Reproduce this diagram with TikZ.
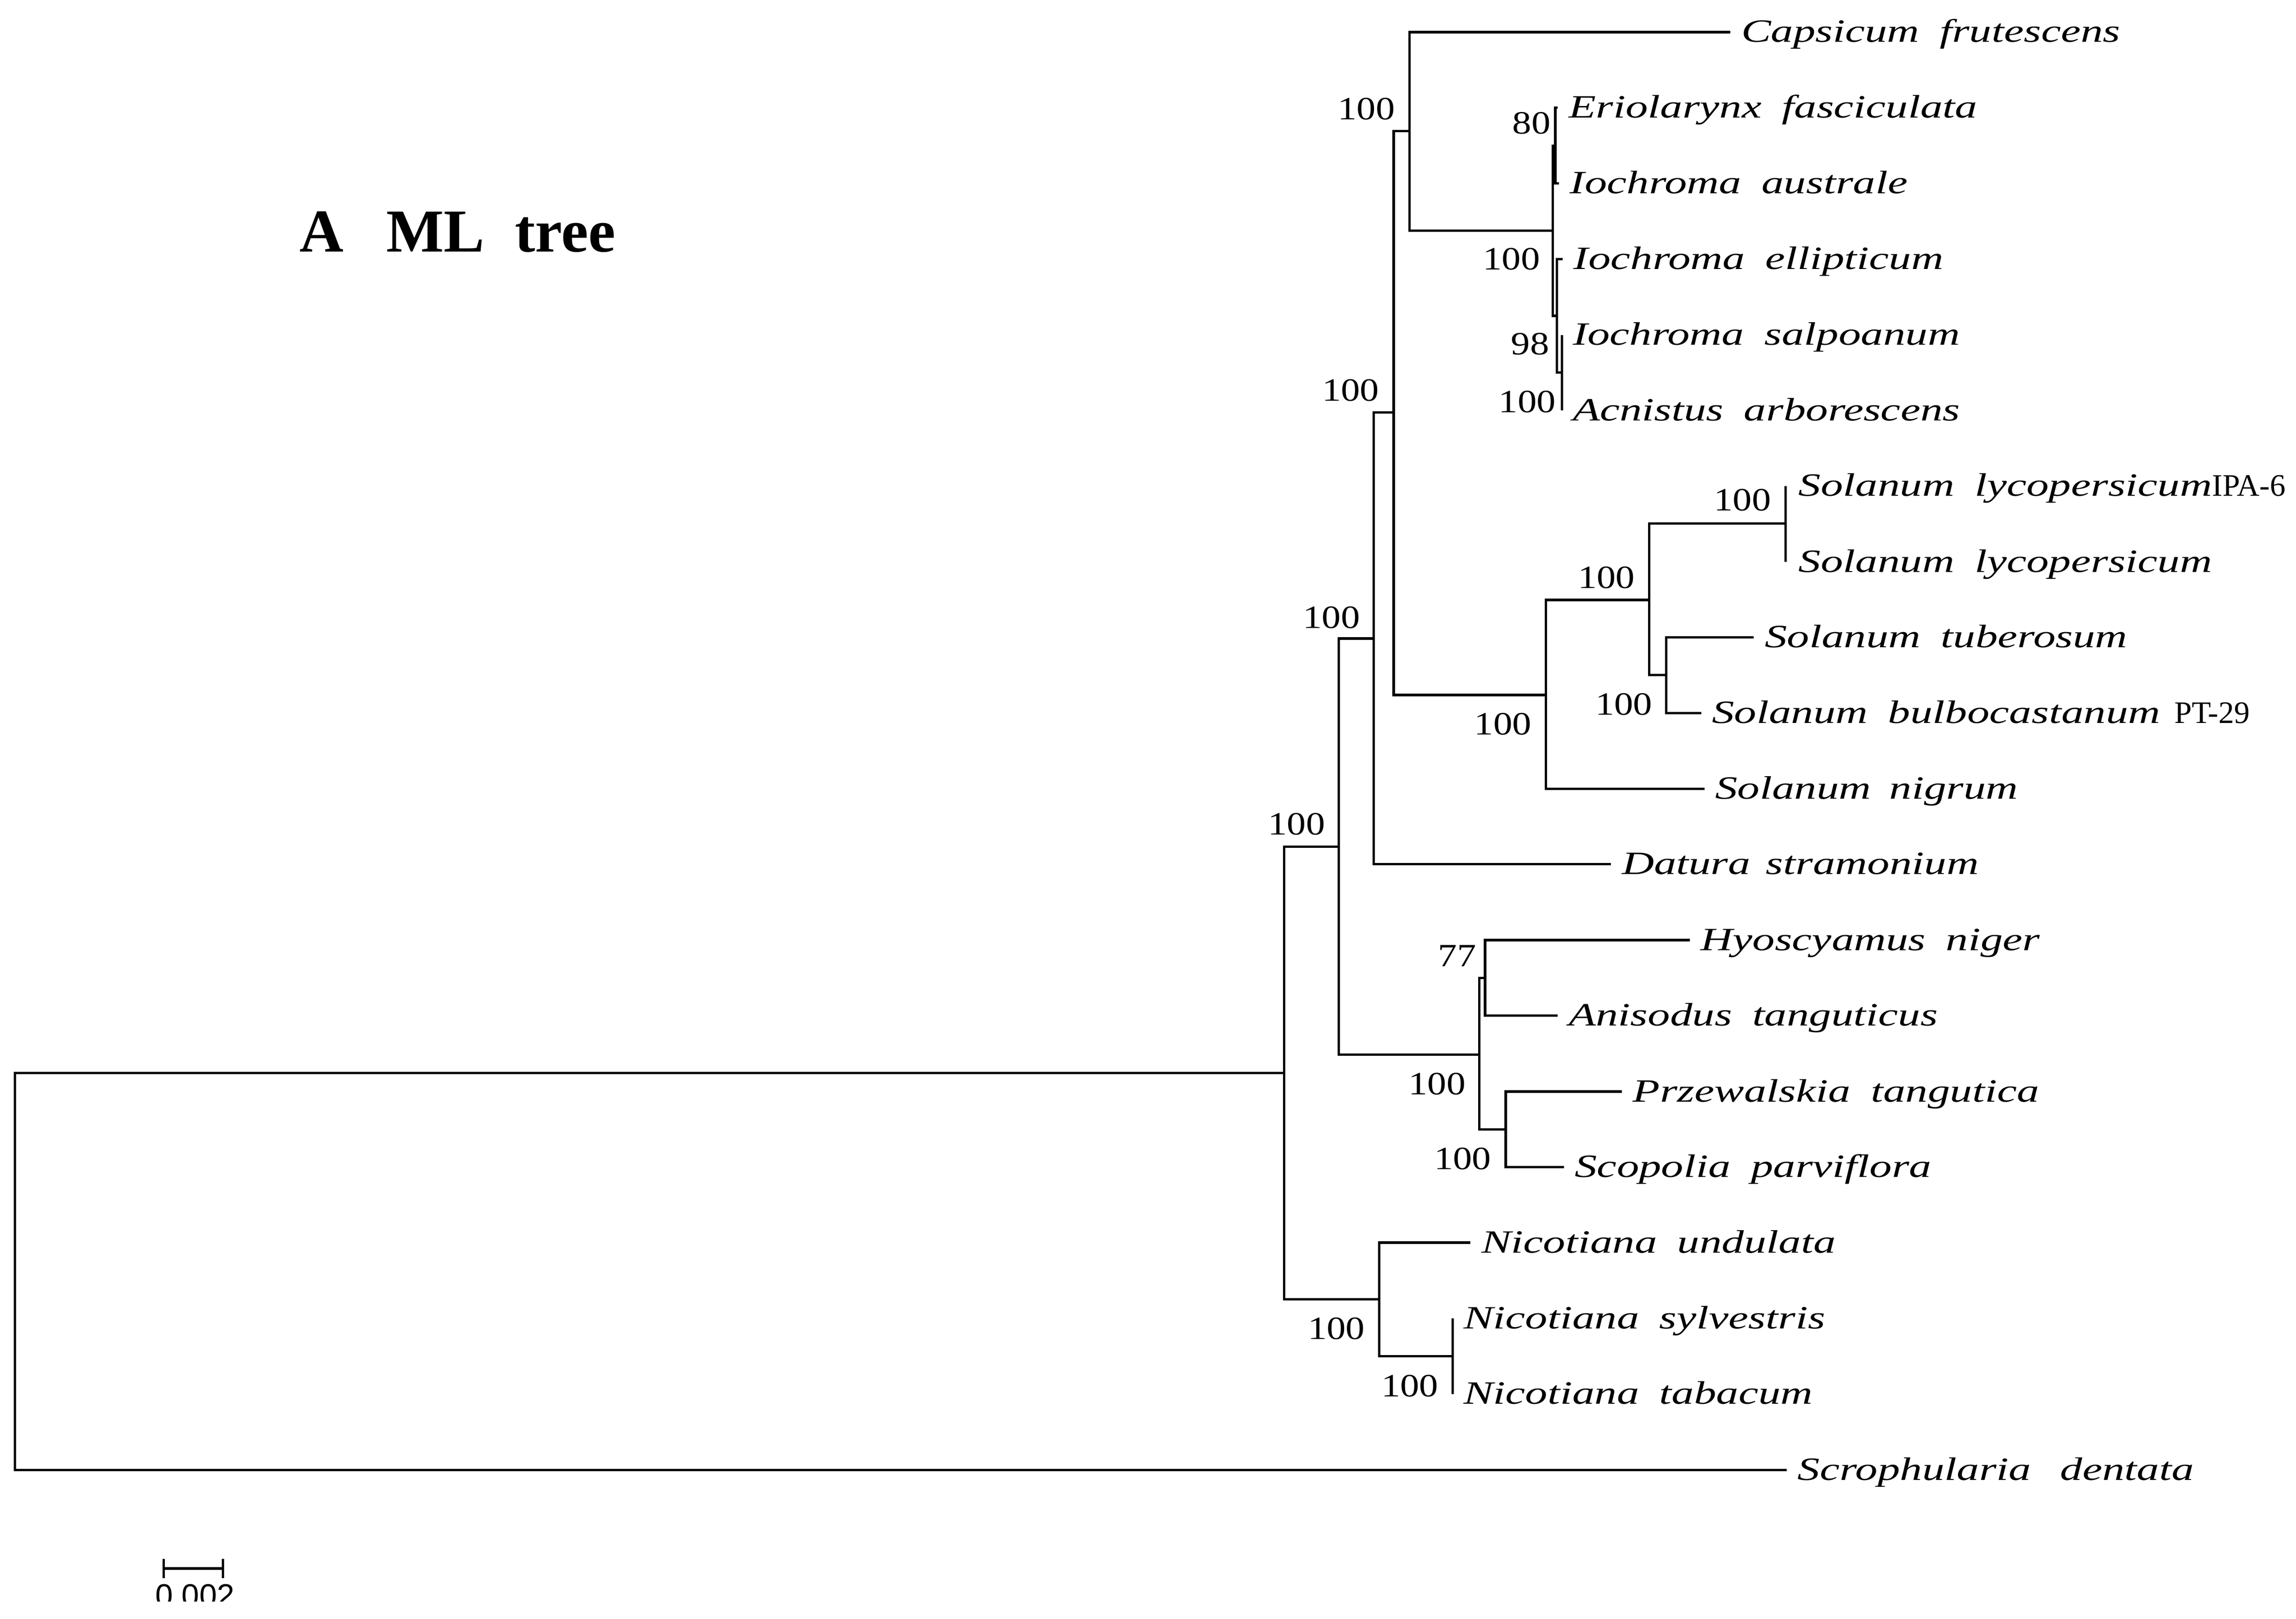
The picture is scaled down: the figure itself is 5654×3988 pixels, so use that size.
\documentclass[tikz,border=0pt]{standalone}
\usepackage{fontspec}
\usetikzlibrary{calc}
\setmainfont{Liberation Serif}
\newfontfamily\leaffont[FakeStretch=1.37]{Liberation Serif}
\newfontfamily\numfont[FakeStretch=1.17]{Liberation Serif}
\newfontfamily\barfont{Liberation Sans}
\newlength\pxu \setlength\pxu{0.01cm}
\newcommand\ws[1]{\hspace*{#1\pxu}}
\newcommand\suffixfont{\rmfamily\upshape\fontsize{21.9pt}{26pt}\selectfont}
\begin{document}
\begin{tikzpicture}[x=0.01cm,y=-0.01cm,
  br/.style={line width=0.06cm, line join=miter},
  leaf/.style={anchor=base west, inner sep=0pt, outer sep=0pt, font=\leaffont\itshape\fontsize{22.76pt}{27pt}\selectfont},
  boot/.style={anchor=east, inner sep=0pt, outer sep=0pt, font=\numfont\fontsize{22.76pt}{27pt}\selectfont},
  title/.style={anchor=base west, inner sep=0pt, font=\bfseries\fontsize{42.7pt}{50pt}\selectfont},
  barlbl/.style={anchor=base, inner sep=0pt, font=\barfont\fontsize{22.2pt}{26pt}\selectfont},
  sbar/.style={line width=0.065cm}]
\useasboundingbox (0,0) rectangle (5654,3988);
\fill[white] (0,0) rectangle (5654,3988);

% internal nodes
\coordinate (R) at (37,3132);
\coordinate (n1) at (3162,2643);
\coordinate (n2) at (3297,2086);
\coordinate (n3) at (3383,1573);
\coordinate (n4) at (3432,1016);
\coordinate (n5) at (3471,323);
\coordinate (nIoc) at (3824,568);
\coordinate (nEA) at (3830,359);
\coordinate (nEl) at (3834,778);
\coordinate (nSA) at (3846,918);
\coordinate (nSol) at (3807,1712);
\coordinate (nS2) at (4061,1478);
\coordinate (nLyc) at (4397,1290);
\coordinate (nTB) at (4103,1663);
\coordinate (nHyo) at (3643,2598);
\coordinate (nHA) at (3657,2409);
\coordinate (nPS) at (3708,2782);
\coordinate (nNic) at (3396,3201);
\coordinate (nST) at (3577,3341);

% leaf tips
\coordinate (tCap) at (4261,79);
\coordinate (tErio) at (3836,265);
\coordinate (tAus) at (3839,452);
\coordinate (tEll) at (3848,638);
\coordinate (tSal) at (3846,825);
\coordinate (tAcn) at (3846,1011);
\coordinate (tIPA) at (4397,1197);
\coordinate (tLyc) at (4397,1384);
\coordinate (tTub) at (4319,1570);
\coordinate (tBulb) at (4189,1757);
\coordinate (tNig) at (4197,1943);
\coordinate (tDat) at (3967,2129);
\coordinate (tHyo) at (4161,2316);
\coordinate (tAni) at (3836,2502);
\coordinate (tPrz) at (3994,2689);
\coordinate (tSco) at (3851,2875);
\coordinate (tUnd) at (3621,3061);
\coordinate (tSyl) at (3577,3248);
\coordinate (tTab) at (3577,3434);
\coordinate (tScr) at (4400,3621);

% branches
\draw[br] (R) |- (n1);   \draw[br] (R) |- (tScr);
\draw[br] (n1) |- (n2);  \draw[br] (n1) |- (nNic);
\draw[br] (n2) |- (n3);  \draw[br] (n2) |- (nHyo);
\draw[br] (n3) |- (n4);  \draw[br] (n3) |- (tDat);
\draw[br] (n4) |- (n5);  \draw[br] (n4) |- (nSol);
\draw[br] (n5) |- (tCap); \draw[br] (n5) |- (nIoc);
\draw[br] (nIoc) |- (nEA); \draw[br] (nIoc) |- (nEl);
\draw[br] (nEA) |- (tErio); \draw[br] (nEA) |- (tAus);
\draw[br] (nEl) |- (tEll); \draw[br] (nEl) |- (nSA);
\draw[br] (nSA) |- (tSal); \draw[br] (nSA) |- (tAcn);
\draw[br] (nSol) |- (nS2); \draw[br] (nSol) |- (tNig);
\draw[br] (nS2) |- (nLyc); \draw[br] (nS2) |- (nTB);
\draw[br] (nLyc) |- (tIPA); \draw[br] (nLyc) |- (tLyc);
\draw[br] (nTB) |- (tTub); \draw[br] (nTB) |- (tBulb);
\draw[br] (nHyo) |- (nHA); \draw[br] (nHyo) |- (nPS);
\draw[br] (nHA) |- (tHyo); \draw[br] (nHA) |- (tAni);
\draw[br] (nPS) |- (tPrz); \draw[br] (nPS) |- (tSco);
\draw[br] (nNic) |- (tUnd); \draw[br] (nNic) |- (nST);
\draw[br] (nST) |- (tSyl); \draw[br] (nST) |- (tTab);

% leaf labels
\node[leaf] (lCap) at ($(tCap)+(27,25)$) {Capsicum\ws{50}frutescens};
\node[leaf] (lErio) at ($(tErio)+(27,25)$) {Eriolarynx\ws{50}fasciculata};
\node[leaf] (lAus) at ($(tAus)+(27,25)$) {Iochroma\ws{50}australe};
\node[leaf] (lEll) at ($(tEll)+(27,25)$) {Iochroma\ws{50}ellipticum};
\node[leaf] (lSal) at ($(tSal)+(27,25)$) {Iochroma\ws{50}salpoanum};
\node[leaf] (lAcn) at ($(tAcn)+(27,25)$) {Acnistus\ws{50}arborescens};
\node[leaf] (lIPA) at ($(tIPA)+(32,25)$) {Solanum\ws{50}lycopersicum{\suffixfont IPA-6}};
\node[leaf] (lLyc) at ($(tLyc)+(32,25)$) {Solanum\ws{50}lycopersicum};
\node[leaf] (lTub) at ($(tTub)+(27,25)$) {Solanum\ws{50}tuberosum};
\node[leaf] (lBulb) at ($(tBulb)+(27,25)$) {Solanum\ws{50}bulbocastanum\ws{35}{\suffixfont PT-29}};
\node[leaf] (lNig) at ($(tNig)+(27,25)$) {Solanum\ws{45}nigrum};
\node[leaf] (lDat) at ($(tDat)+(27,25)$) {Datura\ws{38}stramonium};
\node[leaf] (lHyo) at ($(tHyo)+(27,25)$) {Hyoscyamus\ws{50}niger};
\node[leaf] (lAni) at ($(tAni)+(27,25)$) {Anisodus\ws{50}tanguticus};
\node[leaf] (lPrz) at ($(tPrz)+(27,25)$) {Przewalskia\ws{50}tangutica};
\node[leaf] (lSco) at ($(tSco)+(27,25)$) {Scopolia\ws{50}parviflora};
\node[leaf] (lUnd) at ($(tUnd)+(27,25)$) {Nicotiana\ws{50}undulata};
\node[leaf] (lSyl) at ($(tSyl)+(27,25)$) {Nicotiana\ws{50}sylvestris};
\node[leaf] (lTab) at ($(tTab)+(27,25)$) {Nicotiana\ws{50}tabacum};
\node[leaf] (lScr) at ($(tScr)+(27,25)$) {Scrophularia\ws{72}dentata};

% bootstrap values
\node[boot] (b5) at (3435,268) {100};
\node[boot] (bEA) at (3818,303) {80};
\node[boot] (bIoc) at (3792,638) {100};
\node[boot] (bEl) at (3815,847) {98};
\node[boot] (bSA) at (3831,990) {100};
\node[boot] (b4) at (3396,961) {100};
\node[boot] (b3) at (3349,1521) {100};
\node[boot] (bLyc) at (4361,1232) {100};
\node[boot] (bS2) at (4026,1423) {100};
\node[boot] (bTB) at (4069,1735) {100};
\node[boot] (bSol) at (3771,1784) {100};
\node[boot] (b2) at (3263,2030) {100};
\node[boot] (bHA) at (3635,2355) {77};
\node[boot] (bHyo) at (3609,2670) {100};
\node[boot] (bPS) at (3672,2855) {100};
\node[boot] (bNic) at (3361,3273) {100};
\node[boot] (bST) at (3542,3414) {100};

% title
\node[title] (ttl) at (737,620) {A\ws{105}ML\ws{75}tree};

% scale bar
\coordinate (sbL) at (403,3864);
\coordinate (sbR) at (549,3864);
\coordinate (sbLt) at (403,3840);
\coordinate (sbLb) at (403,3888);
\coordinate (sbRt) at (549,3840);
\coordinate (sbRb) at (549,3888);
\draw[sbar] (sbL) -- (sbR);
\draw[sbar] (sbLt) -- (sbLb);
\draw[sbar] (sbRt) -- (sbRb);
\begin{scope}
\clip (0,0) rectangle (5654,3945);
\node[barlbl] (sbT) at (480,3957) {0.002};
\end{scope}
\end{tikzpicture}
\end{document}
